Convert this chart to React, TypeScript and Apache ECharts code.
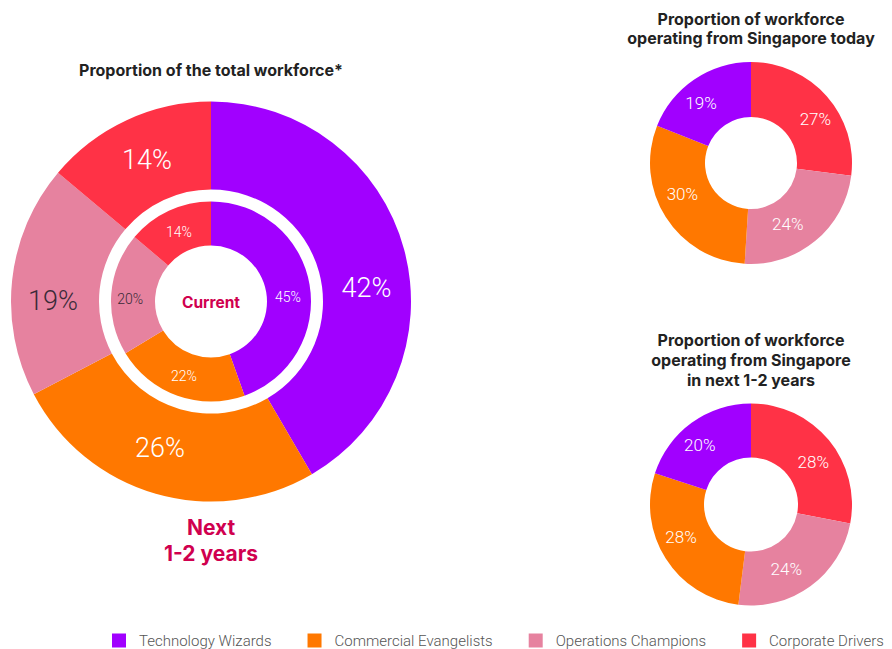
import React, { useEffect, useRef } from "react";
import * as echarts from "echarts";

const categories = [
  "Technology Wizards",
  "Commercial Evangelists",
  "Operations Champions",
  "Corporate Drivers",
];
const colors = ["#A100FF", "#FF7800", "#E6829F", "#FF3246"];

// Big donut (clockwise from top): Technology, Commercial, Operations, Corporate
const nextYears = [42, 26, 19, 14];
const current = [45, 22, 20, 14];
// Small donuts, values by category; drawn clockwise from top: Corporate, Operations, Commercial, Technology
const sgToday = [19, 30, 24, 27];
const sgNext = [20, 28, 24, 28];

const smallOrder = [3, 2, 1, 0];

const LIGHT = "Roboto, 'Noto Sans', sans-serif";
const BOLD = "Inter, Roboto, sans-serif";

export default function App() {
  const ref = useRef<HTMLDivElement>(null);
  useEffect(() => {
    document.body.style.margin = "0";
    const chart = echarts.init(ref.current!, undefined, { renderer: "svg" });

    const bigOffsets: Record<string, number[][]> = {
      outer: [[2, 28], [-7, -6], [0, 17], [3, 3]],
      inner: [[-3, 9], [0, -2], [0, 4], [2, 4]],
    };
    const smallOffsetsToday = [[-7, 3], [-4, -10], [-12, 2], [7, 7]];
    const smallOffsetsNext = [[-6, 3], [-5, -9], [-10, 2], [3, 7]];

    const bigData = (vals: number[], offs: number[][]) =>
      vals.map((v, i) => ({
        name: categories[i],
        value: v,
        itemStyle: { color: colors[i] },
        label: {
          offset: offs[i],
          color: i === 2 ? "#3a2a38" : "#ffffff",
        },
      }));

    const smallData = (vals: number[], offs: number[][]) =>
      smallOrder.map((ci) => ({
        name: categories[ci],
        value: vals[ci],
        itemStyle: { color: colors[ci] },
        label: { offset: offs[ci] },
      }));

    const base = {
      type: "pie",
      silent: true,
      startAngle: 90,
      clockwise: true,
      avoidLabelOverlap: false,
      labelLine: { show: false },
      emphasis: { disabled: true },
      itemStyle: { borderWidth: 0 },
    };

    chart.setOption({
      animation: false,
      legend: {
        left: 112,
        top: 633,
        padding: 0,
        icon: "rect",
        itemWidth: 14,
        itemHeight: 14,
        itemGap: 36,
        selectedMode: false,
        data: categories,
        textStyle: {
          fontFamily: LIGHT,
          fontWeight: 300,
          fontSize: 15,
          color: "#555555",
          padding: [0, 0, 0, 8],
        },
      },
      graphic: [
        {
          type: "text",
          x: 211,
          y: 70,
          style: {
            text: "Proportion of the total workforce*",
            textAlign: "center",
            textVerticalAlign: "middle",
            font: `bold 16px ${BOLD}`,
            fill: "#222222",
          },
        },
        {
          type: "text",
          x: 211,
          y: 302,
          style: {
            text: "Current",
            textAlign: "center",
            textVerticalAlign: "middle",
            font: `bold 15.5px ${BOLD}`,
            fill: "#D0004F",
          },
        },
        {
          type: "text",
          x: 211,
          y: 540,
          style: {
            text: "Next\n1-2 years",
            textAlign: "center",
            textVerticalAlign: "middle",
            lineHeight: 26,
            font: `bold 21px ${BOLD}`,
            fill: "#D0004F",
          },
        },
        {
          type: "text",
          x: 751,
          y: 28,
          style: {
            text: "Proportion of workforce\noperating from Singapore today",
            textAlign: "center",
            textVerticalAlign: "middle",
            lineHeight: 19,
            font: `bold 16px ${BOLD}`,
            fill: "#222222",
          },
        },
        {
          type: "text",
          x: 751,
          y: 360,
          style: {
            text: "Proportion of workforce\noperating from Singapore\nin next 1-2 years",
            textAlign: "center",
            textVerticalAlign: "middle",
            lineHeight: 20,
            font: `bold 16px ${BOLD}`,
            fill: "#222222",
          },
        },
      ],
      series: [
        {
          ...base,
          name: "Next 1-2 years",
          center: [211, 301.5],
          radius: [112, 200],
          label: {
            show: true,
            position: "inside",
            formatter: "{c}%",
            fontFamily: LIGHT,
            fontWeight: 300,
            fontSize: 27,
          },
          data: bigData(nextYears, bigOffsets.outer),
        },
        {
          ...base,
          name: "Current",
          center: [211, 301.5],
          radius: [56, 100],
          label: {
            show: true,
            position: "inside",
            formatter: "{c}%",
            fontFamily: LIGHT,
            fontWeight: 300,
            fontSize: 14,
          },
          data: bigData(current, bigOffsets.inner),
        },
        {
          ...base,
          name: "Singapore today",
          center: [751, 163],
          radius: [46, 101],
          label: {
            show: true,
            position: "inside",
            formatter: "{c}%",
            fontFamily: LIGHT,
            fontWeight: 300,
            fontSize: 17,
            color: "#ffffff",
          },
          data: smallData(sgToday, smallOffsetsToday),
        },
        {
          ...base,
          name: "Singapore next 1-2 years",
          center: [751, 504.5],
          radius: [47, 101],
          label: {
            show: true,
            position: "inside",
            formatter: "{c}%",
            fontFamily: LIGHT,
            fontWeight: 300,
            fontSize: 17,
            color: "#ffffff",
          },
          data: smallData(sgNext, smallOffsetsNext),
        },
      ],
    });
    return () => chart.dispose();
  }, []);
  return <div ref={ref} style={{ width: 892, height: 649 }} />;
}
